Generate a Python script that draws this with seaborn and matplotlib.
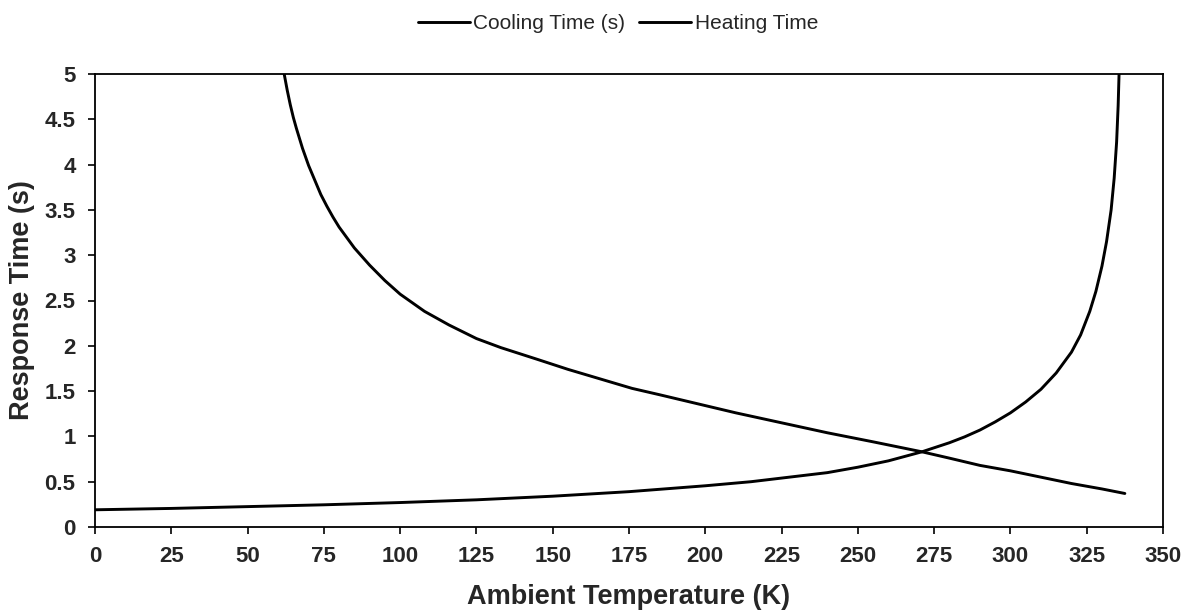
import matplotlib
matplotlib.use("Agg")
import matplotlib.pyplot as plt
import seaborn as sns
import pandas as pd

# Cooling response time vs ambient temperature
cool_temp = [62, 63, 64, 65, 66, 68, 70, 72, 74, 76, 78, 80, 85, 90, 95, 100,
             108, 116, 125, 133, 145, 155, 165, 176, 185, 195, 210, 225, 240,
             255, 271, 280, 290, 300, 310, 320, 330, 337.5]
cool_time = [5.0, 4.82, 4.66, 4.52, 4.4, 4.18, 3.99, 3.83, 3.67, 3.54, 3.42,
             3.31, 3.08, 2.89, 2.72, 2.57, 2.38, 2.23, 2.08, 1.98, 1.85, 1.74,
             1.64, 1.53, 1.46, 1.38, 1.26, 1.15, 1.04, 0.94, 0.83, 0.76, 0.68,
             0.62, 0.55, 0.48, 0.42, 0.37]

# Heating response time vs ambient temperature
heat_temp = [0, 25, 50, 75, 100, 125, 150, 175, 200, 215, 225, 240, 250, 260,
             271, 280, 285, 290, 295, 300, 305, 310, 315, 320, 323, 326, 328,
             330, 331.5, 333, 334, 334.8, 335.3, 335.6]
heat_time = [0.19, 0.205, 0.225, 0.245, 0.27, 0.3, 0.34, 0.39, 0.455, 0.5,
             0.54, 0.6, 0.66, 0.73, 0.83, 0.93, 0.995, 1.07, 1.16, 1.26, 1.38,
             1.52, 1.7, 1.93, 2.12, 2.38, 2.6, 2.88, 3.15, 3.5, 3.85, 4.25,
             4.65, 5.0]

x_ticks = [0, 25, 50, 75, 100, 125, 150, 175, 200, 225, 250, 275, 300, 325, 350]
y_ticks = [0, 0.5, 1, 1.5, 2, 2.5, 3, 3.5, 4, 4.5, 5]
y_tick_labels = ["0", "0.5", "1", "1.5", "2", "2.5", "3", "3.5", "4", "4.5", "5"]

sns.set_theme(style="white")
plt.rcParams["font.family"] = ["Liberation Sans", "DejaVu Sans"]

cool_df = pd.DataFrame({"T": cool_temp, "t": cool_time})
heat_df = pd.DataFrame({"T": heat_temp, "t": heat_time})

fig = plt.figure(figsize=(11.88, 6.15), dpi=100)
ax = fig.add_axes([95 / 1188, 1 - 527 / 615, (1163 - 95) / 1188, (527 - 74) / 615])

sns.lineplot(data=cool_df, x="T", y="t", ax=ax, color="black", linewidth=2.1,
             label="Cooling Time (s)", sort=False, legend=False)
sns.lineplot(data=heat_df, x="T", y="t", ax=ax, color="black", linewidth=2.1,
             label="Heating Time", sort=False, legend=False)

ax.set_xlim(0, 350)
ax.set_ylim(0, 5)
ax.set_xticks(x_ticks)
ax.set_xticklabels([str(v) for v in x_ticks], fontsize=16, fontweight="bold")
ax.set_yticks(y_ticks)
ax.set_yticklabels(y_tick_labels, fontsize=16, fontweight="bold")
ax.tick_params(axis="both", direction="out", length=5, width=1.2, color="black",
               bottom=True, left=True, pad=9)

for side in ["left", "bottom", "top", "right"]:
    ax.spines[side].set_color("black")
    ax.spines[side].set_linewidth(1.3)

ax.set_xlabel("Ambient Temperature (K)", fontsize=19.5, fontweight="bold", labelpad=12)
ax.set_ylabel("Response Time (s)", fontsize=19.5, fontweight="bold", labelpad=7)

handles, labels = ax.get_legend_handles_labels()
fig.legend(handles, labels, loc="upper center", bbox_to_anchor=(0.52, 1.008),
           ncol=2, frameon=False, fontsize=15, handlelength=2.5,
           handletextpad=0.15, columnspacing=0.7)

fig.savefig("out.png", dpi=100)
